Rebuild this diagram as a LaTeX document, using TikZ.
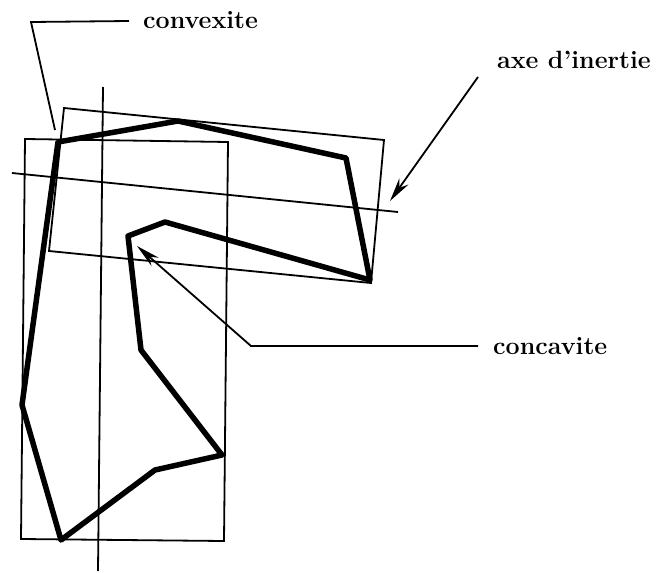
\documentclass[tikz,border=0pt]{standalone}
\usetikzlibrary{arrows.meta}
\begin{document}
\begin{tikzpicture}[x=1pt,y=-1pt,
  thin line/.style={line width=1.8pt, line join=miter},
  thick line/.style={line width=5.5pt, line join=round, line cap=round},
  lbl/.style={inner sep=0pt, anchor=base west, font=\fontsize{25}{30}\selectfont\bfseries},
  arr/.style={thin line, -{Stealth[length=24pt,width=11pt]}}]
\useasboundingbox (0,0) rectangle (657,573);
% polygon vertices
\coordinate (A) at (58,142);
\coordinate (B) at (178,121);
\coordinate (C) at (346,158);
\coordinate (D) at (370,280);
\coordinate (E) at (165,222);
\coordinate (F) at (128,236);
\coordinate (G) at (141,350);
\coordinate (H) at (222,455);
\coordinate (I) at (155,470);
\coordinate (J) at (61,540);
\coordinate (K) at (22,405);
% upright bounding box
\coordinate (R1) at (25,139);
\coordinate (R2) at (228,142);
\coordinate (R3) at (224,541);
\coordinate (R4) at (21,539);
\draw[thin line] (R1) -- (R2) -- (R3) -- (R4) -- cycle;
% vertical axis
\coordinate (V1) at (103,87);
\coordinate (V2) at (98,571);
\draw[thin line] (V1) -- (V2);
% tilted bounding box
\coordinate (T1) at (64,108);
\coordinate (T2) at (384,140);
\coordinate (T3) at (371,283);
\coordinate (T4) at (49,251);
\draw[thin line] (T1) -- (T2) -- (T3) -- (T4) -- cycle;
% inertia axis
\coordinate (X1) at (12,173);
\coordinate (X2) at (398,212);
\draw[thin line] (X1) -- (X2);
% shape
\draw[thick line] (A) -- (B) -- (C) -- (D) -- (E) -- (F) -- (G) -- (H) -- (I) -- (J) -- (K) -- cycle;
% labels
\node[lbl] (convexite) at (143,28) {convexite};
\node[lbl] (axe) at (497,68) {axe d'inertie};
\node[lbl] (concavite) at (493,354) {concavite};
% leaders
\coordinate (c1) at (129,21);
\coordinate (c2) at (31,22);
\coordinate (c3) at (55,130);
\draw[thin line] (c1) -- (c2) -- (c3);
\coordinate (a1) at (478,77);
\coordinate (a2) at (390,201);
\draw[arr] (a1) -- (a2);
\coordinate (k1) at (478,346);
\coordinate (k2) at (251,346);
\coordinate (k3) at (137,246);
\draw[arr] (k1) -- (k2) -- (k3);
\end{tikzpicture}
\end{document}
